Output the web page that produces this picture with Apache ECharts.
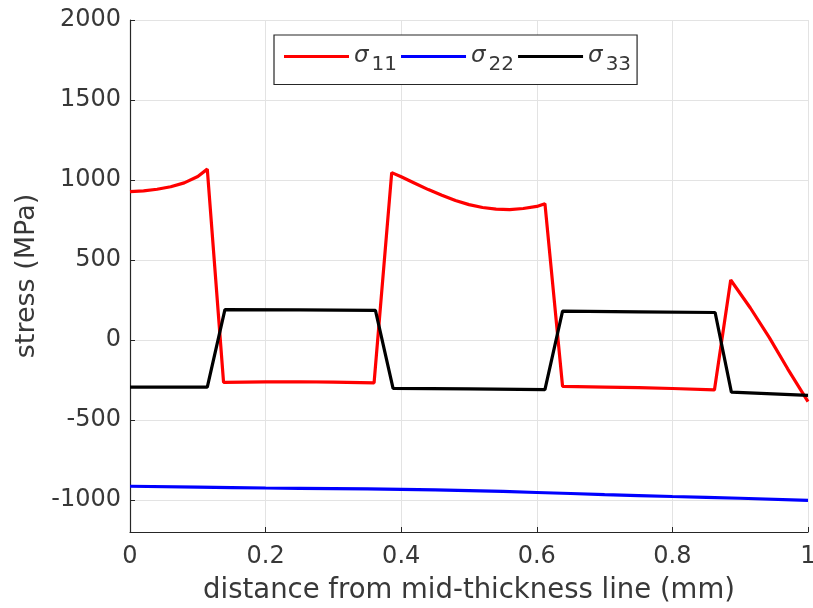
<!DOCTYPE html>
<html><head><meta charset="utf-8">
<script src="https://cdn.jsdelivr.net/npm/echarts@6/dist/echarts.min.js"></script>
<style>html,body{margin:0;padding:0;background:#fff}#c{width:813px;height:608px}</style>
</head><body><div id="c"></div>
<script>
// Data
const xTicks = [0, 0.2, 0.4, 0.6, 0.8, 1];
const yTicks = [-1000, -500, 0, 500, 1000, 1500, 2000];
const seriesNames = ['σ11', 'σ22', 'σ33'];

const s11X = [0, 0.02, 0.04, 0.06, 0.08, 0.10, 0.114, 0.138, 0.20, 0.25, 0.30, 0.36, 0.386, 0.40, 0.42, 0.44, 0.46, 0.48, 0.50, 0.52, 0.54, 0.56, 0.58, 0.60, 0.612, 0.638, 0.70, 0.75, 0.80, 0.862, 0.886, 0.915, 0.943, 0.97, 1.0];
const s11Y = [927, 932, 942, 958, 982, 1022, 1068, -265, -262, -261, -263, -268, 1046, 1020, 980, 940, 905, 872, 846, 828, 818, 815, 822, 835, 852, -290, -294, -298, -303, -312, 375, 200, 15, -180, -385];

const s22X = [0, 0.1, 0.2, 0.3, 0.4, 0.5, 0.6, 0.7, 0.8, 0.9, 1.0];
const s22Y = [-914, -919, -925, -929, -933, -941, -953, -966, -978, -989, -1002];

const s33X = [0, 0.114, 0.140, 0.25, 0.362, 0.388, 0.50, 0.612, 0.638, 0.75, 0.863, 0.887, 1.0];
const s33Y = [-295, -295, 190, 188, 185, -302, -306, -310, 180, 176, 172, -326, -346];

function pairs(xs, ys) { return xs.map((x, i) => [x, ys[i]]); }

const axisColor = '#262626';
const textColor = '#383838';
const font = 'DejaVu Sans';
const chart = echarts.init(document.getElementById('c'));
chart.setOption({
  animation: false,
  backgroundColor: '#fff',
  textStyle: { fontFamily: font },
  grid: { left: 130, right: 5, top: 20, bottom: 76, containLabel: false, outerBoundsMode: 'none' },
  legend: {
    top: 35, left: 274,
    data: seriesNames,
    icon: 'rect',
    backgroundColor: '#fff',
    borderColor: axisColor, borderWidth: 1.2, borderRadius: 0,
    padding: [10, 6, 10, 10],
    itemWidth: 65, itemHeight: 3.2, itemGap: 4,
    formatter: function (n) { return '{s|σ}{sub|' + n.slice(1) + '}'; },
    textStyle: {
      color: textColor, fontFamily: font,
      rich: {
        s: { fontSize: 23, fontStyle: 'italic', color: textColor, fontFamily: font },
        sub: { fontSize: 20, color: textColor, fontFamily: font, padding: [16, 0, 0, 3] }
      }
    }
  },
  xAxis: {
    type: 'value', min: 0, max: 1, interval: 0.2,
    name: 'distance from mid-thickness line (mm)',
    nameLocation: 'middle', nameGap: 45,
    nameTextStyle: { fontSize: 27.5, color: textColor, fontFamily: font },
    axisLine: { show: true, onZero: false, lineStyle: { color: axisColor, width: 1.2 } },
    axisTick: { show: true, inside: true, length: 5, lineStyle: { color: axisColor } },
    axisLabel: { fontSize: 24, color: textColor, margin: 13, fontFamily: font,
      formatter: v => String(+v.toFixed(1)), customValues: xTicks },
    splitLine: { show: true, lineStyle: { color: '#e3e3e3', width: 1 } }
  },
  yAxis: {
    type: 'value', min: -1200, max: 2000,
    name: 'stress (MPa)',
    nameLocation: 'middle', nameGap: 76,
    nameTextStyle: { fontSize: 27, color: textColor, fontFamily: font },
    axisLine: { show: true, onZero: false, lineStyle: { color: axisColor, width: 1.2 } },
    axisTick: { show: true, inside: true, length: 5, lineStyle: { color: axisColor }, customValues: yTicks },
    axisLabel: { fontSize: 24, color: textColor, margin: 9, fontFamily: font,
      formatter: v => String(v), customValues: yTicks },
    splitLine: { show: true, lineStyle: { color: '#e3e3e3', width: 1 } }
  },
  series: [
    { name: seriesNames[0], type: 'line', data: pairs(s11X, s11Y), symbol: 'none',
      lineStyle: { color: '#ff0000', width: 3.2 }, itemStyle: { color: '#ff0000' }, z: 3 },
    { name: seriesNames[1], type: 'line', data: pairs(s22X, s22Y), symbol: 'none', smooth: true,
      lineStyle: { color: '#0000ff', width: 3.2 }, itemStyle: { color: '#0000ff' }, z: 3 },
    { name: seriesNames[2], type: 'line', data: pairs(s33X, s33Y), symbol: 'none',
      lineStyle: { color: '#000000', width: 3.2 }, itemStyle: { color: '#000000' }, z: 4 }
  ]
});
</script></body></html>
